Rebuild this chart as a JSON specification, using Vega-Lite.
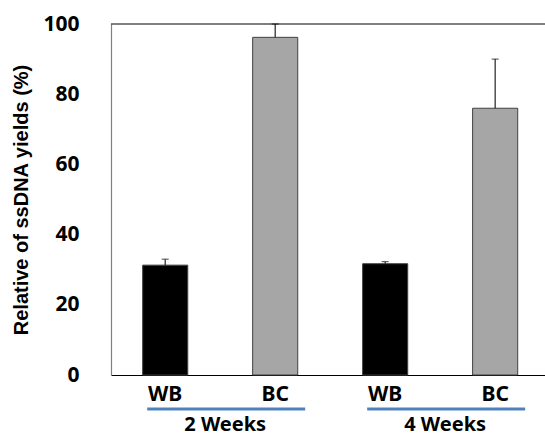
{
  "$schema": "https://vega.github.io/schema/vega-lite/v6.json",
  "autosize": "none",
  "width": 434,
  "height": 351,
  "padding": {"left": 111, "top": 24, "right": 0, "bottom": 63},
  "background": "white",
  "config": {"view": {"stroke": null}},
  "datasets": {
    "bars": [
      {"key": "2 Weeks|WB", "group": "2 Weeks", "sample": "WB", "value": 31.3, "upper": 33.0},
      {"key": "2 Weeks|BC", "group": "2 Weeks", "sample": "BC", "value": 96.2, "upper": 100},
      {"key": "4 Weeks|WB", "group": "4 Weeks", "sample": "WB", "value": 31.7, "upper": 32.3},
      {"key": "4 Weeks|BC", "group": "4 Weeks", "sample": "BC", "value": 76.0, "upper": 90.0}
    ],
    "groups": [
      {"group": "2 Weeks", "first": "2 Weeks|WB", "last": "2 Weeks|BC"},
      {"group": "4 Weeks", "first": "4 Weeks|WB", "last": "4 Weeks|BC"}
    ]
  },
  "layer": [
    {
      "data": {"name": "bars"},
      "mark": {"type": "bar", "stroke": "#404040", "strokeWidth": 1},
      "encoding": {
        "x": {
          "field": "key", "type": "nominal", "sort": null,
          "scale": {"type": "band", "paddingInner": 0.59, "paddingOuter": 0.268, "align": 0.537},
          "axis": {
            "title": null,
            "labelExpr": "split(datum.label, '|')[1]",
            "labelAngle": 0,
            "labelFont": "Noto Sans",
            "labelFontWeight": "bold",
            "labelFontSize": 21,
            "labelColor": "#000000",
            "labelPadding": 8,
            "ticks": false,
            "domainColor": "#000000",
            "domainWidth": 1.2
          }
        },
        "y": {
          "field": "value", "type": "quantitative",
          "scale": {"domain": [0, 100], "nice": false},
          "axis": {
            "values": [0, 20, 40, 60, 80, 100],
            "title": "Relative of ssDNA yields (%)",
            "titleFont": "Liberation Sans",
            "titleFontWeight": "bold",
            "titleFontSize": 20,
            "titleColor": "#000000",
            "titlePadding": 11,
            "labelFont": "Noto Sans",
            "labelFontWeight": "bold",
            "labelFontSize": 21,
            "labelColor": "#000000",
            "labelPadding": 32,
            "ticks": false,
            "grid": false,
            "domainColor": "#808080",
            "domainWidth": 1.2
          }
        },
        "color": {
          "field": "sample", "type": "nominal",
          "scale": {"domain": ["WB", "BC"], "range": ["#000000", "#a6a6a6"]},
          "legend": null
        }
      }
    },
    {
      "data": {"name": "bars"},
      "mark": {"type": "rule", "color": "#222222", "strokeWidth": 1.2},
      "encoding": {
        "x": {"field": "key", "type": "nominal", "sort": null},
        "y": {"field": "value", "type": "quantitative"},
        "y2": {"field": "upper"}
      }
    },
    {
      "data": {"name": "bars"},
      "mark": {"type": "tick", "color": "#222222", "thickness": 1.2, "size": 7},
      "encoding": {
        "x": {"field": "key", "type": "nominal", "sort": null},
        "y": {"field": "upper", "type": "quantitative"}
      }
    },
    {
      "data": {"values": [{"top": 100}]},
      "mark": {"type": "rule", "color": "#000000", "strokeWidth": 1.2},
      "encoding": {
        "y": {"field": "top", "type": "quantitative"}
      }
    },
    {
      "data": {"name": "groups"},
      "mark": {"type": "rule", "color": "#4f81bd", "strokeWidth": 3, "yOffset": 34, "xOffset": -18, "x2Offset": 30},
      "encoding": {
        "x": {"field": "first", "type": "nominal", "sort": null},
        "x2": {"field": "last"},
        "y": {"datum": 0, "type": "quantitative"}
      }
    },
    {
      "data": {"name": "groups"},
      "mark": {"type": "text", "font": "Noto Sans", "fontWeight": "bold", "fontSize": 20, "color": "#000000", "baseline": "middle", "align": "center", "dx": 60, "dy": 50},
      "encoding": {
        "x": {"field": "first", "type": "nominal", "sort": null},
        "y": {"datum": 0, "type": "quantitative"},
        "text": {"field": "group"}
      }
    }
  ]
}
